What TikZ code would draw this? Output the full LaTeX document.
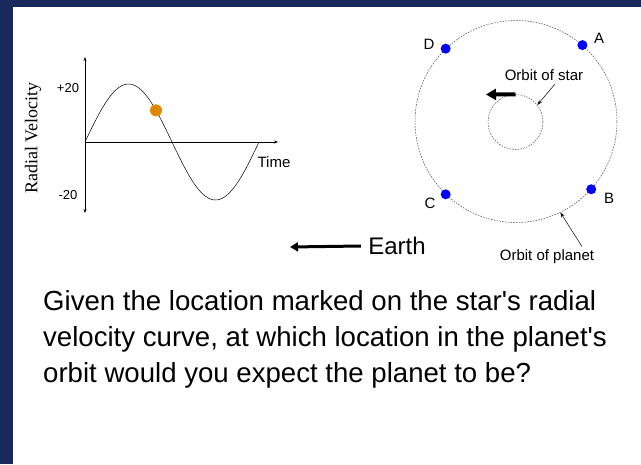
\documentclass[tikz,border=0pt]{standalone}
\usepackage{fontspec}
\setmainfont{Liberation Sans}
\newfontfamily\timesface{Liberation Serif}
\usetikzlibrary{arrows.meta, positioning}
\definecolor{slidenavy}{RGB}{26,41,92}
\definecolor{dotorange}{RGB}{226,136,0}

\begin{document}
\begin{tikzpicture}[x=1pt, y=-1pt,
    axisline/.style={line width=0.6pt},
    orbitline/.style={draw=black!70, circle, inner sep=0pt, line width=0.5pt, dash pattern=on 1.6pt off 1.2pt},
    planet/.style={circle, fill=blue, inner sep=0pt, minimum size=10pt},
    pointer/.style={-{Stealth[length=5pt,width=3.5pt]}, line width=0.5pt},
    bigarrow/.style={-{Triangle[length=8pt,width=9pt]}, line width=3pt},
    small/.style={font=\fontsize{15}{18}\selectfont}]
    \useasboundingbox (0,0) rectangle (641,464);
    % slide frame
    \fill[slidenavy] (0,0) rectangle (641,7);
    \fill[slidenavy] (0,0) rectangle (13,464);

    % Radial velocity curve
    \coordinate (origin) at (85,142);
    \coordinate (vtop) at (85,57);
    \coordinate (vbot) at (85,213);
    \coordinate (hend) at (278,142);
    \draw[axisline, {Stealth[length=4pt,width=3pt]}-{Stealth[length=4pt,width=3pt]}] (vbot) -- (vtop);
    \draw[axisline, -{Stealth[length=4pt,width=3pt]}] (origin) -- (hend);
    \draw[line width=0.5pt] plot[variable=\t, domain=0:360, samples=90, smooth] ({85+0.48333*\t}, {142-58*sin(\t)});
    \node[circle, fill=dotorange, inner sep=0pt, minimum size=12pt] (rvdot) at (156,110.3) {};
    \node[font=\fontsize{13}{15}\selectfont] (plus) at (68,88) {+20};
    \node[font=\fontsize{13}{15}\selectfont] (minus) at (68,195) {-20};
    \node[small] (timelbl) at (274,162) {Time};
    \node[rotate=90, font=\timesface\fontsize{18}{20}\selectfont] (rvlbl) at (33,138) {Radial Velocity};

    % Orbits
    \node[orbitline, minimum size=202pt] (porbit) at (516,121.5) {};
    \node[orbitline, minimum size=55pt] (sorbit) at (515.5,122) {};
    \node[planet] (pA) at (porbit.49) {};
    \node[planet] (pB) at (porbit.-42) {};
    \node[planet] (pC) at (porbit.-134) {};
    \node[planet] (pD) at (porbit.134) {};
    \node[small] (lA) at (599,38) {A};
    \node[small] (lB) at (609,198) {B};
    \node[small] (lC) at (430,203) {C};
    \node[small] (lD) at (429,44) {D};
    \coordinate (startip) at (486,94.5);
    \draw[-{Triangle[length=10pt,width=11pt]}, line width=4pt] (sorbit.north) -- (startip);
    \node[small] (slbl) at (544,75) {Orbit of star};
    \draw[pointer] ([xshift=11pt]slbl.south) -- (sorbit.38);
    \node[small] (plbl) at (547,257) {Orbit of planet};
    \draw[pointer] ([xshift=35pt]plbl.north) -- (porbit.-64);

    % Earth
    \node[font=\fontsize{24}{26}\selectfont] (earth) at (397,246) {Earth};
    \coordinate (earthtip) at (290,247);
    \draw[bigarrow] ([xshift=-4pt]earth.west) -- (earthtip);

    % Question
    \node[anchor=north west, align=left, inner sep=0pt, font=\fontsize{27.6}{36}\selectfont] (question) at (43,290)
        {Given the location marked on the star\textquotesingle s radial\\
         velocity curve, at which location in the planet\textquotesingle s\\
         orbit would you expect the planet to be?};
\end{tikzpicture}
\end{document}
